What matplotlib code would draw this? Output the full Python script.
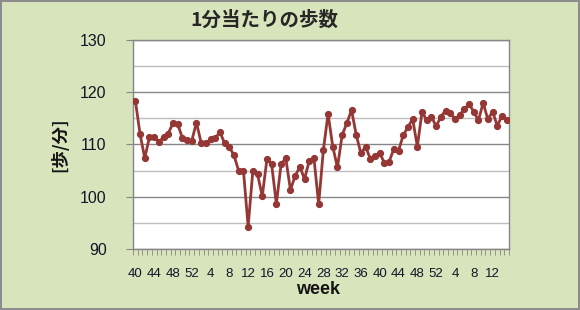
import numpy as np
import matplotlib.pyplot as plt
from matplotlib.ticker import MultipleLocator

# weeks: 40..52, then 1..52, then 1..15
weeks = list(range(40, 53)) + list(range(1, 53)) + list(range(1, 16))

steps_per_min = [
    118.4, 112.0, 107.4, 111.4, 111.5, 110.5, 111.4, 112.1, 114.1, 113.9,
    111.3, 110.9, 110.7, 114.2, 110.3, 110.2, 111.0, 111.2, 112.4, 110.2,
    109.5, 107.9, 104.9, 105.0, 94.3, 105.0, 104.3, 100.1, 107.2, 106.2,
    98.6, 106.2, 107.4, 101.3, 104.0, 105.7, 103.4, 106.9, 107.4, 98.6,
    108.9, 115.9, 109.6, 105.6, 111.8, 114.1, 116.6, 111.8, 108.3, 109.6,
    107.2, 107.8, 108.3, 106.5, 106.7, 109.2, 108.8, 111.8, 113.3, 114.9,
    109.6, 116.3, 114.6, 115.3, 113.5, 115.3, 116.5, 116.0, 114.9, 115.6,
    116.8, 117.7, 116.3, 114.6, 118.0, 114.8, 116.3, 113.6, 115.4, 114.7,
]

title = '1分当たりの歩数'
ylabel = '[歩/分]'
xlabel = 'week'

bg = '#D8E4BC'
line_color = '#953735'
jp = ['Noto Sans CJK JP', 'DejaVu Sans']

fig = plt.figure(figsize=(5.8, 3.1), dpi=100)
fig.patch.set_facecolor(bg)
fig.patch.set_edgecolor('#8c8c8c')
fig.patch.set_linewidth(1.5)

ax = fig.add_axes([133 / 580, 1 - 249 / 310, 376 / 580, 209 / 310])
ax.set_facecolor('white')

x = np.arange(len(steps_per_min))
ax.plot(x, steps_per_min, color=line_color, linewidth=2.0,
        marker='o', markersize=4.2, zorder=3)

ax.set_ylim(90, 130)
ax.set_xlim(-0.5, len(x) - 0.5)

# y axis: labelled every 10, light grid every 5
ax.yaxis.set_major_locator(MultipleLocator(10))
ax.yaxis.set_minor_locator(MultipleLocator(5))
ax.grid(True, which='major', axis='y', color='#868686', linewidth=1.0)
ax.grid(True, which='minor', axis='y', color='#BDBDBD', linewidth=1.0)
ax.tick_params(axis='y', which='major', direction='out', length=5,
               color='#868686', pad=14, labelsize=11.5, labelcolor='#141428')
ax.tick_params(axis='y', which='minor', length=0)
for lbl in ax.get_yticklabels():
    lbl.set_family('Liberation Sans')

# x axis: tick marks between categories, labels every 4 weeks
ax.set_xticks(x[::4])
ax.set_xticklabels([str(w) for w in weeks[::4]], family='Liberation Sans')
ax.set_xticks(np.arange(-0.5, len(x)), minor=True)
ax.tick_params(axis='x', which='major', length=0, pad=14, labelsize=9.5,
               labelcolor='#141428')
ax.tick_params(axis='x', which='minor', direction='out', length=4,
               color='#868686')

for side in ['left', 'right', 'bottom', 'top']:
    ax.spines[side].set_color('#868686')
    ax.spines[side].set_linewidth(1.0)

fig.text(264 / 580, 1 - 20 / 310, title, ha='center', va='center',
         fontsize=14, fontweight='bold', family=jp, color='#262626')
fig.text(60 / 580, 1 - 145 / 310, ylabel, ha='center', va='center',
         rotation=90, fontsize=12.5, fontweight='bold', family=jp,
         color='#141414')
fig.text(318 / 580, 1 - 290 / 310, xlabel, ha='center', va='center',
         fontsize=13, fontweight='bold', family='Liberation Sans',
         color='#141414')

fig.savefig('out.png', dpi=100, facecolor=fig.get_facecolor(),
            edgecolor=fig.get_edgecolor())
